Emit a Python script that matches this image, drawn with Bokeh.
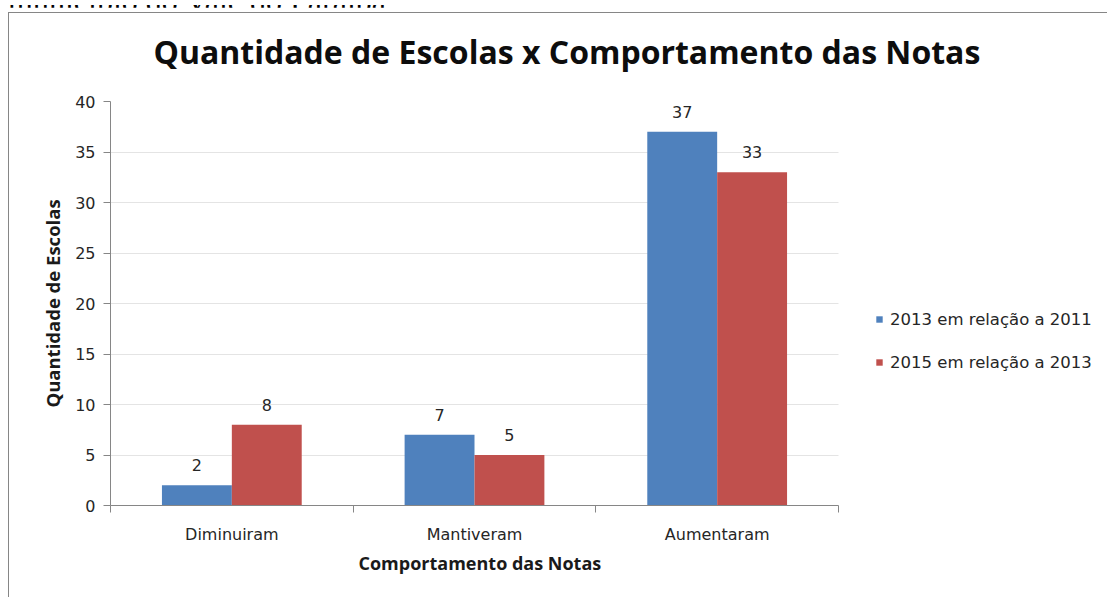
from bokeh.plotting import figure
from bokeh.layouts import column
from bokeh.models import (Range1d, FixedTicker, LabelSet, Legend, LegendItem,
                          ColumnDataSource, InlineStyleSheet, Div, Title)
from bokeh.core.properties import value
from bokeh.embed import file_html
from bokeh.resources import INLINE

# ---------------- data ----------------
categories = ["Diminuiram", "Mantiveram", "Aumentaram"]
series_names = ["2013 em relação a 2011", "2015 em relação a 2013"]
values_2013 = [2, 7, 37]
values_2015 = [8, 5, 33]
y_ticks = [0, 5, 10, 15, 20, 25, 30, 35, 40]
title_text = "Quantidade de Escolas x Comportamento das Notas"
x_title = "Comportamento das Notas"
y_title = "Quantidade de Escolas"
header_text = "município do Vale do Paraíba"

# ---------------- style ----------------
BLUE = "#4F81BD"
RED = "#C0504D"
AXIS = "#868686"
GRID = "#e4e4e4"
TXT = "#262626"

HDR = 7                      # height of the strip with the (cut) document text above the chart
W, H = 1107, 590
FL, FR, FT, FB = 110, 838, 101 - HDR, 505 - HDR   # frame edges (figure pixels)
UNIT = (FR - FL) / len(categories)                 # pixels per category
X_END = len(categories) - 0.5 + (W - FR) / UNIT     # plot area continues under the legend
BAR_W = 0.288

header = Div(text=(
    '<div style="position:relative;width:%dpx;height:%dpx;overflow:hidden;">'
    '<span style="position:absolute;left:8px;bottom:-5px;font-family:\'Liberation Serif\';'
    'font-size:32px;line-height:32px;white-space:nowrap;color:#000;">%s</span></div>'
    % (W, HDR, header_text)), width=W, height=HDR, margin=(0, 0, 0, 0))

css = InlineStyleSheet(css="""
:host { position: relative; }
:host::after { content: ""; position: absolute; left: 8px; top: %dpx; right: 0px; bottom: 0px;
  border-left: 1px solid #868686; border-top: 1px solid #868686; pointer-events: none; }
""" % (12 - HDR))

p = figure(width=W, height=H, x_range=Range1d(-0.5, X_END),
           y_range=Range1d(0, 40), output_backend="svg", toolbar_location=None,
           min_border_left=FL, min_border_right=0,
           min_border_top=FT, min_border_bottom=H - FB, margin=(0, 0, 0, 0))
p.stylesheets = [css]
p.outline_line_color = None
p.xgrid.grid_line_color = None
p.ygrid.grid_line_color = GRID
p.ygrid.ticker = FixedTicker(ticks=y_ticks)
try:
    p.ygrid.cross_bounds = (-0.5, len(categories) - 0.5)
except Exception:
    pass

idx = list(range(len(categories)))
src1 = ColumnDataSource(dict(x=[i - BAR_W / 2 for i in idx], top=values_2013,
                             label=[str(v) for v in values_2013]))
src2 = ColumnDataSource(dict(x=[i + BAR_W / 2 for i in idx], top=values_2015,
                             label=[str(v) for v in values_2015]))
r1 = p.vbar(x="x", top="top", width=BAR_W, bottom=0, source=src1,
            fill_color=BLUE, line_color=None)
r2 = p.vbar(x="x", top="top", width=BAR_W, bottom=0, source=src2,
            fill_color=RED, line_color=None)

for s in (src1, src2):
    p.add_layout(LabelSet(x="x", y="top", text="label", source=s, y_offset=20,
                          text_align="center", text_baseline="middle",
                          text_font=value("DejaVu Sans"), text_font_size="16px",
                          text_color=TXT))

# x axis
xa = p.xaxis[0]
xa.bounds = (-0.5, len(categories) - 0.5)
xa.ticker = FixedTicker(ticks=idx, minor_ticks=[i - 0.5 for i in idx] + [len(idx) - 0.5])
xa.major_label_overrides = {i: c for i, c in zip(idx, categories)}
xa.major_tick_out = 0
xa.major_tick_in = 0
xa.minor_tick_out = 7
xa.minor_tick_in = 0
xa.minor_tick_line_color = AXIS
xa.axis_line_color = AXIS
xa.major_label_text_font = "DejaVu Sans"
xa.major_label_text_font_size = "16px"
xa.major_label_text_color = TXT
xa.major_label_standoff = 12

# x axis title, centred under the categories
p.add_layout(Title(text=x_title, align="left", offset=248, standoff=4,
                   text_font="Open Sans", text_font_style="bold",
                   text_font_size="18px", text_color="#1a1a1a"), "below")

# y axis
ya = p.yaxis[0]
ya.ticker = FixedTicker(ticks=y_ticks)
ya.major_tick_out = 7
ya.major_tick_in = 0
ya.minor_tick_line_color = None
ya.major_tick_line_color = AXIS
ya.axis_line_color = AXIS
ya.major_label_text_font = "DejaVu Sans"
ya.major_label_text_font_size = "16px"
ya.major_label_text_color = TXT
ya.major_label_standoff = 8
ya.axis_label = y_title
ya.axis_label_text_font = "Open Sans"
ya.axis_label_text_font_style = "bold"
ya.axis_label_text_font_size = "18.5px"
ya.axis_label_text_color = "#1a1a1a"
ya.axis_label_standoff = 7

# legend, to the right of the bars
legend = Legend(items=[LegendItem(label=series_names[0], renderers=[r1]),
                       LegendItem(label=series_names[1], renderers=[r2])],
                location=(765, 133), orientation="vertical",
                glyph_width=8, glyph_height=8, label_height=20, spacing=23,
                label_standoff=7, padding=0, margin=0,
                border_line_color=None, background_fill_alpha=0,
                label_text_font="DejaVu Sans", label_text_font_size="16.5px",
                label_text_color=TXT)
p.add_layout(legend, "center")

# gap between the plot area and the chart title
p.add_layout(Title(text=" ", text_font_size="10px", standoff=16), "above")

# chart title
p.title.text = title_text
p.title.align = "left"
p.title.offset = 43
p.title.vertical_align = "bottom"
p.title.standoff = 0
p.title.text_font = "Open Sans"
p.title.text_font_style = "bold"
p.title.text_font_size = "32px"
p.title.text_color = "#0d0d0d"

layout = column(header, p, spacing=0)
open("out.html", "w").write(file_html(layout, INLINE))
